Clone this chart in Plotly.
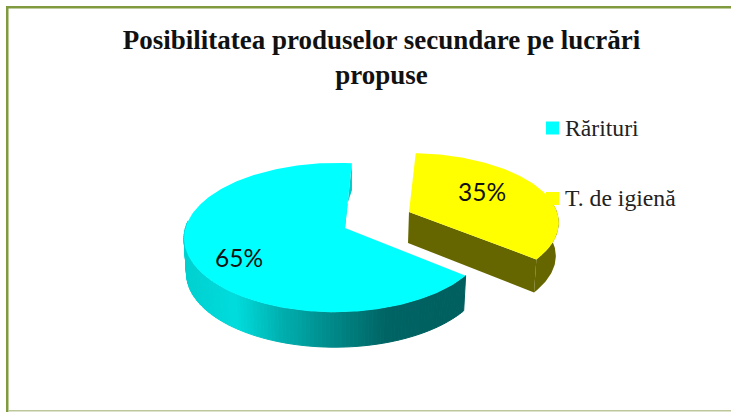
import numpy as np
import plotly.graph_objects as go

# Data
categories = ["Rărituri", "T. de igienă"]
shares = [65, 35]
title_lines = ["Posibilitatea produselor secundare pe lucrări", "propuse"]

CYAN = "#00ffff"
YELLOW = "#ffff00"
W, H = 731, 412
ROTATION = 3.0


def proj(theta_deg, p):
    t = np.radians(theta_deg)
    u, v = np.sin(t), np.cos(t)
    w = 1 + p["k"] * v + p["m"] * u
    return p["x0"] + p["a"] * u / w, p["y0"] - p["b"] * v / w, u, w


def lower(theta_deg, p):
    x, y, u, w = proj(theta_deg, p)
    return x - p["lean"] * u, y + p["depth"]


CY = dict(x0=345, y0=228, a=150, b=73.3, k=0.1275, m=0.06, depth=35, lean=2.5)
YL = dict(x0=409, y0=212, a=148, b=68, k=0.154, m=0.0, depth=33, lean=3)

fig = go.Figure()


def poly(xs, ys, color, line=0.0):
    fig.add_trace(go.Scatter(
        x=xs, y=ys, mode="lines", fill="toself", fillcolor=color,
        line=dict(color=color, width=line), hoverinfo="skip", showlegend=False))


stops = [(184, (0, 208, 208)), (235, (0, 220, 220)), (280, (0, 176, 176)),
         (330, (0, 138, 138)), (385, (0, 100, 100)), (470, (0, 94, 94))]


def wall_color(x):
    xs = [s[0] for s in stops]
    g = np.interp(x, xs, [s[1][1] for s in stops])
    return f"rgb(0,{g:.0f},{g:.0f})"


span = [s / sum(shares) * 360 for s in shares]
yl_start = ROTATION
yl_end = yl_start + span[1]
cy_start = yl_end
cy_end = ROTATION + 360

# cyan outer wall, drawn as gradient strips
edge = np.linspace(cy_start, 275, 110)
for a0, a1 in zip(edge[:-1], edge[1:]):
    xt0, yt0, *_ = proj(a0, CY)
    xt1, yt1, *_ = proj(a1, CY)
    xb0, yb0 = lower(a0, CY)
    xb1, yb1 = lower(a1, CY)
    poly([xt0, xt1, xb1, xb0, xt0], [yt0, yt1, yb1, yb0, yt0],
         wall_color((xt0 + xt1) / 2), 1.0)

# cyan inner wall at the start of the slice
sx, sy, *_ = proj(cy_end, CY)
poly([sx, sx, CY["x0"] - 16, CY["x0"], sx],
     [sy, sy + 27, CY["y0"] + 30, CY["y0"], sy], "#00c8c8")

# cyan top face
arc = np.linspace(cy_start, cy_end, 240)
pts = [proj(a, CY) for a in arc]
poly([CY["x0"]] + [p[0] for p in pts] + [CY["x0"]],
     [CY["y0"]] + [p[1] for p in pts] + [CY["y0"]], CYAN)

# yellow cut face
ex, ey, *_ = proj(yl_end, YL)
ebx, eby = lower(yl_end, YL)
poly([YL["x0"], ex, ebx, YL["x0"] - 1, YL["x0"]],
     [YL["y0"], ey, eby, YL["y0"] + 31, YL["y0"]], "#666600")

# yellow outer wall
arc = np.linspace(yl_end, 78, 60)
top = [proj(a, YL) for a in arc]
bot = [lower(a, YL) for a in arc[::-1]]
poly([p[0] for p in top] + [p[0] for p in bot],
     [p[1] for p in top] + [p[1] for p in bot], "#666600")

# yellow top face
arc = np.linspace(yl_start, yl_end, 140)
pts = [proj(a, YL) for a in arc]
poly([YL["x0"]] + [p[0] for p in pts] + [YL["x0"]],
     [YL["y0"]] + [p[1] for p in pts] + [YL["y0"]], YELLOW)

# legend markers
fig.add_trace(go.Scatter(
    x=[552.5, 552.5], y=[128, 198.5], mode="markers",
    marker=dict(symbol="square", size=13, color=[CYAN, YELLOW], line=dict(width=0)),
    hoverinfo="skip", showlegend=False))

anns = [
    dict(x=238.5, y=257, text=f"{shares[0]}%", font=dict(family="Lato", size=24.5, color="#111111")),
    dict(x=482, y=191, text=f"{shares[1]}%", font=dict(family="Lato", size=24.5, color="#111111")),
    dict(x=562.5, y=128, xanchor="left", text=categories[0],
         font=dict(family="Liberation Serif", size=23.7, color="#222222")),
    dict(x=562.5, y=198, xanchor="left", text=categories[1],
         font=dict(family="Liberation Serif", size=23.7, color="#222222")),
]
for a in anns:
    a.update(xref="x", yref="y", showarrow=False)
    a.setdefault("xanchor", "center")
    a.setdefault("yanchor", "middle")

green = "#7f9a3f"
shapes = [
    dict(type="rect", xref="x", yref="y", x0=6, x1=8.5, y0=6, y1=412, fillcolor=green, line_width=0),
    dict(type="rect", xref="x", yref="y", x0=6, x1=731, y0=6, y1=8.5, fillcolor=green, line_width=0),
    dict(type="rect", xref="x", yref="y", x0=8, x1=731, y0=410, y1=411.5, fillcolor="#bcc79a", line_width=0),
]

title_font = dict(family="Liberation Serif", size=27, color="#111111", weight="bold")
fig.update_layout(
    width=W, height=H, margin=dict(l=0, r=0, t=0, b=0),
    paper_bgcolor="white", plot_bgcolor="white",
    xaxis=dict(range=[0, W], visible=False, fixedrange=True),
    yaxis=dict(range=[H, 0], visible=False, fixedrange=True),
    shapes=shapes, annotations=anns, showlegend=False,
    title=dict(text="<br>".join(title_lines), x=381.5 / W, xanchor="center",
               y=1 - 49 / H, yanchor="top", font=title_font),
)
fig.write_html("out.html", config={"displayModeBar": False},
               post_script="document.body.style.margin='0';document.body.style.overflow='hidden';")
